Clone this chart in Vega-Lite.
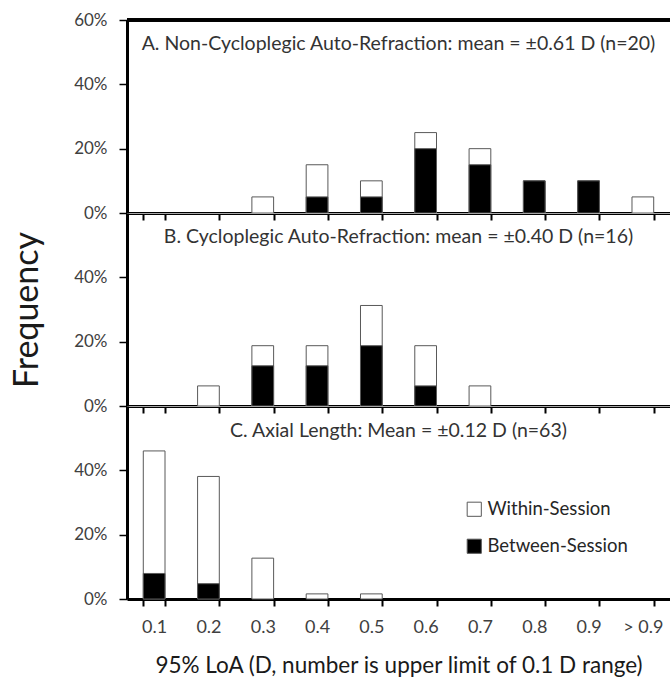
{
  "$schema": "https://vega.github.io/schema/vega-lite/v6.json",
  "background": "white",
  "padding": {"left": 10, "top": 10, "right": 0, "bottom": 0},
  "config": {
    "font": "Lato",
    "view": {"stroke": "#a6a6a6", "strokeWidth": 1},
    "axis": {"grid": false, "labelFont": "Lato", "labelColor": "#404040", "labelFontSize": 17, "titleFont": "Lato", "titleFontWeight": "normal", "titleColor": "#1a1a1a", "domainColor": "black", "tickColor": "black"},
    "title": {"font": "Lato", "fontWeight": "normal", "fontSize": 19.5, "color": "#333333", "anchor": "middle", "frame": "group"},
    "legend": {"labelFont": "Lato"}
  },
  "datasets": {
    "hist": [
      {"panel": "A", "bin": "0.3", "series": "Within-Session", "value": 0.05},
      {"panel": "A", "bin": "0.4", "series": "Within-Session", "value": 0.15},
      {"panel": "A", "bin": "0.5", "series": "Within-Session", "value": 0.10},
      {"panel": "A", "bin": "0.6", "series": "Within-Session", "value": 0.25},
      {"panel": "A", "bin": "0.7", "series": "Within-Session", "value": 0.20},
      {"panel": "A", "bin": "0.8", "series": "Within-Session", "value": 0.10},
      {"panel": "A", "bin": "0.9", "series": "Within-Session", "value": 0.10},
      {"panel": "A", "bin": "> 0.9", "series": "Within-Session", "value": 0.05},
      {"panel": "A", "bin": "0.4", "series": "Between-Session", "value": 0.05},
      {"panel": "A", "bin": "0.5", "series": "Between-Session", "value": 0.05},
      {"panel": "A", "bin": "0.6", "series": "Between-Session", "value": 0.20},
      {"panel": "A", "bin": "0.7", "series": "Between-Session", "value": 0.15},
      {"panel": "A", "bin": "0.8", "series": "Between-Session", "value": 0.10},
      {"panel": "A", "bin": "0.9", "series": "Between-Session", "value": 0.10},
      {"panel": "B", "bin": "0.2", "series": "Within-Session", "value": 0.0625},
      {"panel": "B", "bin": "0.3", "series": "Within-Session", "value": 0.1875},
      {"panel": "B", "bin": "0.4", "series": "Within-Session", "value": 0.1875},
      {"panel": "B", "bin": "0.5", "series": "Within-Session", "value": 0.3125},
      {"panel": "B", "bin": "0.6", "series": "Within-Session", "value": 0.1875},
      {"panel": "B", "bin": "0.7", "series": "Within-Session", "value": 0.0625},
      {"panel": "B", "bin": "0.3", "series": "Between-Session", "value": 0.125},
      {"panel": "B", "bin": "0.4", "series": "Between-Session", "value": 0.125},
      {"panel": "B", "bin": "0.5", "series": "Between-Session", "value": 0.1875},
      {"panel": "B", "bin": "0.6", "series": "Between-Session", "value": 0.0625},
      {"panel": "C", "bin": "0.1", "series": "Within-Session", "value": 0.4603},
      {"panel": "C", "bin": "0.2", "series": "Within-Session", "value": 0.381},
      {"panel": "C", "bin": "0.3", "series": "Within-Session", "value": 0.127},
      {"panel": "C", "bin": "0.4", "series": "Within-Session", "value": 0.0159},
      {"panel": "C", "bin": "0.5", "series": "Within-Session", "value": 0.0159},
      {"panel": "C", "bin": "0.1", "series": "Between-Session", "value": 0.0794},
      {"panel": "C", "bin": "0.2", "series": "Between-Session", "value": 0.0476}
    ]
  },
  "bounds": "flush",
  "spacing": 0,
  "resolve": {"scale": {"color": "independent", "y": "independent"}, "legend": {"color": "independent"}},
  "vconcat": [
    {
      "width": 543,
      "height": 193,
      "data": {"name": "hist"},
      "transform": [{"filter": "datum.panel == 'A'"}],
      "title": {"text": "A. Non-Cycloplegic Auto-Refraction: mean = ±0.61 D (n=20)", "offset": -43},
      "layer": [
        {
          "mark": {"type": "bar", "stroke": "#595959", "strokeWidth": 1},
          "encoding": {
            "x": {"field": "bin", "type": "nominal", "sort": ["0.1","0.2","0.3","0.4","0.5","0.6","0.7","0.8","0.9","> 0.9"], "scale": {"domain": ["0.1","0.2","0.3","0.4","0.5","0.6","0.7","0.8","0.9","> 0.9"], "paddingInner": 0.6, "paddingOuter": 0.3}, "axis": {"title": null, "labels": false, "tickBand": "extent", "domainWidth": 3, "tickSize": 7, "tickWidth": 2}},
            "y": {"field": "value", "type": "quantitative", "stack": null, "scale": {"domain": [0, 0.6]}, "axis": {"values": [0, 0.2, 0.4, 0.6], "format": ".0%", "title": null, "tickSize": 8, "tickWidth": 1.5, "domainWidth": 3, "labelPadding": 12}},
            "color": {"field": "series", "type": "nominal", "scale": {"domain": ["Within-Session", "Between-Session"], "range": ["white", "black"]}, "legend": null},
            "order": {"field": "series", "sort": "descending"}
          }
        },
        {
          "mark": {"type": "rule", "color": "black", "strokeWidth": 2.5},
          "encoding": {"y": {"datum": 0.6}}
        }
      ]
    },
    {
      "width": 543,
      "height": 193,
      "data": {"name": "hist"},
      "transform": [{"filter": "datum.panel == 'B'"}],
      "title": {"text": "B. Cycloplegic Auto-Refraction: mean = ±0.40 D (n=16)", "offset": -34},
      "mark": {"type": "bar", "stroke": "#595959", "strokeWidth": 1},
      "encoding": {
        "x": {"field": "bin", "type": "nominal", "sort": ["0.1","0.2","0.3","0.4","0.5","0.6","0.7","0.8","0.9","> 0.9"], "scale": {"domain": ["0.1","0.2","0.3","0.4","0.5","0.6","0.7","0.8","0.9","> 0.9"], "paddingInner": 0.6, "paddingOuter": 0.3}, "axis": {"title": null, "labels": false, "tickBand": "extent", "domainWidth": 3, "tickSize": 7, "tickWidth": 2}},
        "y": {"field": "value", "type": "quantitative", "stack": null, "scale": {"domain": [0, 0.6]}, "axis": {"values": [0, 0.2, 0.4], "format": ".0%", "title": "Frequency", "titleFontSize": 34, "titlePadding": 29, "tickSize": 8, "tickWidth": 1.5, "domainWidth": 3, "labelPadding": 12}},
        "color": {"field": "series", "type": "nominal", "scale": {"domain": ["Within-Session", "Between-Session"], "range": ["white", "black"]}, "legend": null},
        "order": {"field": "series", "sort": "descending"}
      }
    },
    {
      "width": 543,
      "height": 193,
      "data": {"name": "hist"},
      "transform": [{"filter": "datum.panel == 'C'"}],
      "title": {"text": "C. Axial Length: Mean = ±0.12 D (n=63)", "offset": -35},
      "mark": {"type": "bar", "stroke": "#595959", "strokeWidth": 1},
      "encoding": {
        "x": {"field": "bin", "type": "nominal", "sort": ["0.1","0.2","0.3","0.4","0.5","0.6","0.7","0.8","0.9","> 0.9"], "scale": {"domain": ["0.1","0.2","0.3","0.4","0.5","0.6","0.7","0.8","0.9","> 0.9"], "paddingInner": 0.6, "paddingOuter": 0.3}, "axis": {"title": "95% LoA (D, number is upper limit of 0.1 D range)", "titleFontSize": 22.5, "titlePadding": 18, "labelAngle": 0, "labelFontSize": 18, "labelPadding": 12, "tickBand": "extent", "domainWidth": 3, "tickSize": 7, "tickWidth": 2}},
        "y": {"field": "value", "type": "quantitative", "stack": null, "scale": {"domain": [0, 0.6]}, "axis": {"values": [0, 0.2, 0.4], "format": ".0%", "title": null, "tickSize": 8, "tickWidth": 1.5, "domainWidth": 3, "labelPadding": 12}},
        "color": {"field": "series", "type": "nominal", "scale": {"domain": ["Within-Session", "Between-Session"], "range": ["white", "black"]}, "legend": {"orient": "none", "legendX": 338, "legendY": 94, "title": null, "padding": 0, "symbolType": "square", "symbolSize": 200, "symbolStrokeColor": "#595959", "symbolStrokeWidth": 1, "labelFontSize": 18.5, "labelColor": "#262626", "rowPadding": 18, "labelOffset": 4}},
        "order": {"field": "series", "sort": "descending"}
      }
    }
  ]
}
